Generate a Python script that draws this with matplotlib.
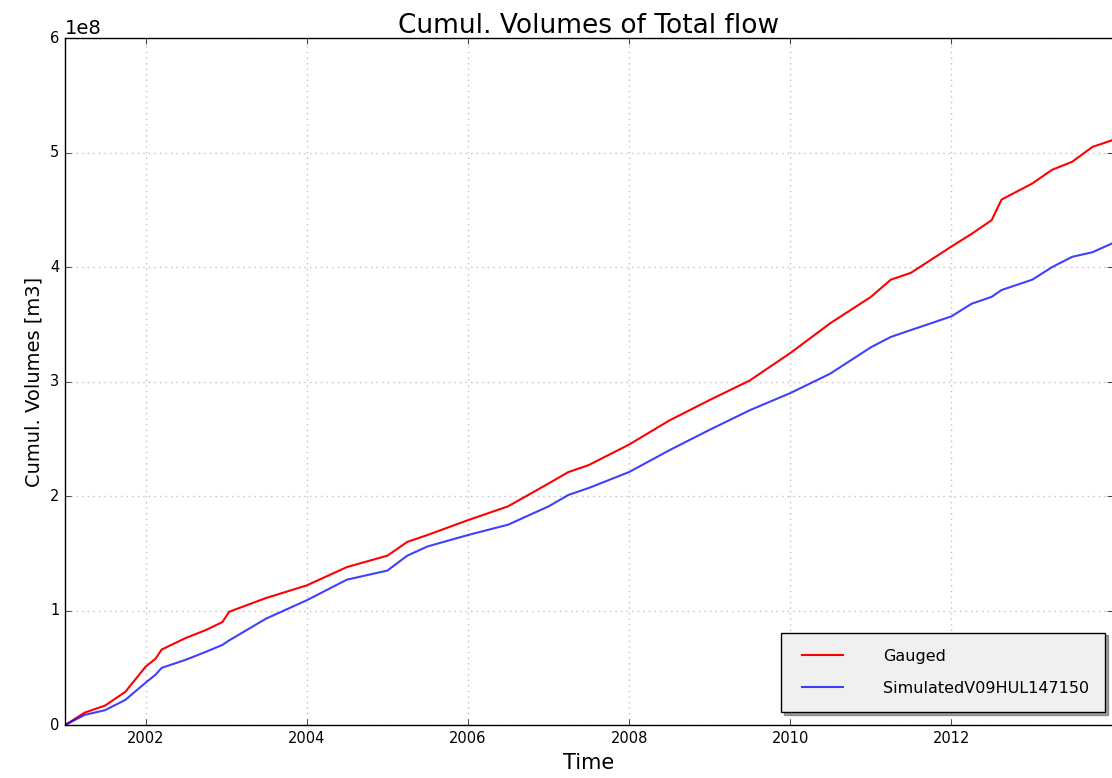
import matplotlib
matplotlib.use('Agg')
import matplotlib.pyplot as plt
import matplotlib.dates as mdates
import pandas as pd

dates = ['2001-01-01', '2001-04-01', '2001-07-01', '2001-10-01', '2002-01-01',
         '2002-02-15', '2002-03-15', '2002-07-01', '2002-10-01', '2002-12-15',
         '2003-01-15', '2003-07-01', '2004-01-01', '2004-07-01', '2005-01-01',
         '2005-04-01', '2005-07-01', '2006-01-01', '2006-07-01', '2007-01-01',
         '2007-04-01', '2007-07-01', '2008-01-01', '2008-07-01', '2009-01-01',
         '2009-07-01', '2010-01-01', '2010-07-01', '2011-01-01', '2011-04-01',
         '2011-07-01', '2012-01-01', '2012-04-01', '2012-07-01', '2012-08-15',
         '2013-01-01', '2013-04-01', '2013-07-01', '2013-10-01', '2014-01-01']

# cumulative volumes, units of 1e8 m3
gauged = [0, 0.11, 0.17, 0.29, 0.51, 0.58, 0.66, 0.76, 0.83, 0.90,
          0.99, 1.11, 1.22, 1.38, 1.48, 1.60, 1.66, 1.79, 1.91, 2.11,
          2.21, 2.27, 2.45, 2.66, 2.84, 3.01, 3.25, 3.51, 3.74, 3.89,
          3.95, 4.18, 4.29, 4.41, 4.59, 4.73, 4.85, 4.92, 5.05, 5.11]
simulated = [0, 0.09, 0.13, 0.22, 0.37, 0.44, 0.50, 0.57, 0.64, 0.70,
             0.74, 0.93, 1.09, 1.27, 1.35, 1.48, 1.56, 1.66, 1.75, 1.91,
             2.01, 2.07, 2.21, 2.40, 2.58, 2.75, 2.90, 3.07, 3.30, 3.39,
             3.45, 3.57, 3.68, 3.74, 3.80, 3.89, 4.00, 4.09, 4.13, 4.21]

t = pd.to_datetime(dates)
g = [v * 1e8 for v in gauged]
s = [v * 1e8 for v in simulated]

plt.style.use('classic')
fig = plt.figure(figsize=(11.12, 7.78), dpi=100)
ax = fig.add_axes([0.0585, 0.068, 0.942, 0.883])

ax.plot(t, g, color='r', lw=1.5, label='Gauged')
ax.plot(t, s, color='b', lw=1.5, alpha=0.75, label='SimulatedV09HUL147150')

ax.set_xlim(pd.Timestamp('2001-01-01'), pd.Timestamp('2013-12-31'))
ax.set_ylim(0, 6e8)
ax.xaxis.set_major_locator(mdates.YearLocator(2))
ax.xaxis.set_major_formatter(mdates.DateFormatter('%Y'))
ax.tick_params(labelsize=10.5)
ax.yaxis.get_offset_text().set_fontsize(14)
ax.set_axisbelow(True)
ax.grid(True, color='0.75', linestyle=':', linewidth=1)

ax.set_title('Cumul. Volumes of Total flow', fontsize=19, pad=4)
ax.set_xlabel('Time', fontsize=15)
ax.set_ylabel('Cumul. Volumes [m3]', fontsize=14)

leg = ax.legend(loc='lower right', shadow=True, fontsize=11.5, handletextpad=2.2,
                handlelength=3.2, borderpad=1.0, labelspacing=1.1,
                borderaxespad=0, bbox_to_anchor=(0.993, 0.019))
leg.get_frame().set_facecolor('#f0f0f0')

fig.savefig('out.png', dpi=100)
